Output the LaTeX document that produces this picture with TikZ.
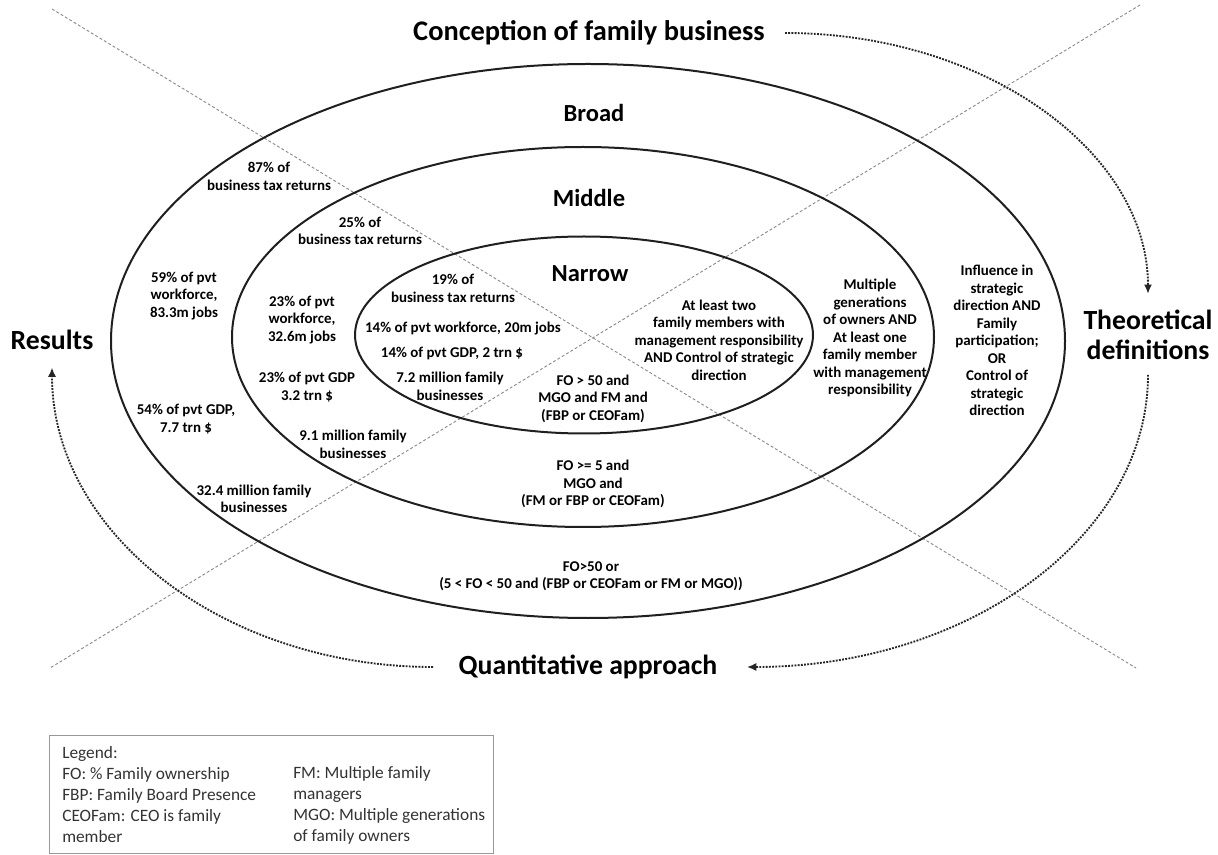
\documentclass[tikz,border=0pt]{standalone}
\usepackage{fontspec}
\setmainfont{Carlito}
\usetikzlibrary{arrows.meta}
\begin{document}
\begin{tikzpicture}[x=0.75pt,y=-0.75pt,
  ring/.style={draw=black!88, line width=1.5pt},
  diag/.style={draw=black!45, line width=0.7pt, dash pattern=on 2.2pt off 1.6pt},
  flow/.style={draw=black!85, line width=1.4pt, dash pattern=on 1.4pt off 1pt, -{Latex[length=7pt,width=6pt]}},
  txt/.style={font=\bfseries\fontsize{11.2}{13.1}\selectfont, align=center, inner sep=0pt},
  lvl/.style={font=\bfseries\fontsize{18.4}{22}\selectfont, inner sep=0pt},
  head/.style={font=\bfseries\fontsize{20.8}{22.5}\selectfont, align=center, inner sep=0pt},
  legtxt/.style={font=\fontsize{13}{15.75}\selectfont, align=left, inner sep=0pt, text=black!80, anchor=west},
  legbox/.style={draw=black!40, line width=0.6pt, inner sep=0pt, anchor=north west}
]
\useasboundingbox (0,0) rectangle (1218,855);

% diagonal guide lines
\coordinate (d1a) at (52,9);
\coordinate (d1b) at (1136,668);
\coordinate (d2a) at (1140,5);
\coordinate (d2b) at (50,668);
\draw[diag] (d1a) -- (d1b);
\draw[diag] (d2a) -- (d2b);

% rings
\draw[ring] (588,341) ellipse [x radius=477, y radius=277];
\draw[ring] (583,337) ellipse [x radius=351, y radius=190];
\draw[ring] (584,335) ellipse [x radius=229, y radius=98.5];

% headings
\node[head, font=\bfseries\fontsize{21.3}{22.5}\selectfont] (title) at (589,33) {Conception of family business};
\node[head] (theo) at (1148,335) {Theoretical\\definitions};
\node[head] (res) at (52,340) {Results};
\node[head] (quant) at (588,667) {Quantitative approach};

% ring labels
\node[lvl] (broad) at (594,113) {Broad};
\node[lvl] (middle) at (589,198) {Middle};
\node[lvl] (narrow) at (590,274) {Narrow};

% broad ring
\node[txt] (b1) at (269,176.5) {87\% of\\business tax returns};
\node[txt] (b2) at (184,296) {59\% of pvt\\workforce,\\83.3m jobs};
\node[txt] (b3) at (186,419) {54\% of pvt GDP,\\7.7 trn \$};
\node[txt] (b4) at (254,499) {32.4 million family\\businesses};
\node[txt] (b5) at (997,340.5) {Influence in\\strategic\\direction AND\\Family\\participation;\\OR\\Control of\\strategic\\direction};
\node[txt] (b6) at (591,576) {FO>50 or\\(5 < FO < 50 and (FBP or CEOFam or FM or MGO))};

% middle ring
\node[txt] (m1) at (360,231) {25\% of\\business tax returns};
\node[txt] (m2) at (302,320) {23\% of pvt\\workforce,\\32.6m jobs};
\node[txt] (m3) at (307,387) {23\% of pvt GDP\\3.2 trn \$};
\node[txt] (m4) at (353,444.5) {9.1 million family\\businesses};
\node[txt] (m5) at (870,338) {Multiple\\generations\\of owners AND\\At least one\\family member\\with management\\responsibility};
\node[txt] (m6) at (593,484) {FO >= 5 and\\MGO and\\(FM or FBP or CEOFam)};

% narrow ring
\node[txt] (n1) at (453,288.5) {19\% of\\business tax returns};
\node[txt] (n2) at (463,329) {14\% of pvt workforce, 20m jobs};
\node[txt] (n3) at (452,353) {14\% of pvt GDP, 2 trn \$};
\node[txt] (n4) at (450,386.5) {7.2 million family\\businesses};
\node[txt] (n5) at (593,398.5) {FO > 50 and\\MGO and FM and\\(FBP or CEOFam)};
\node[txt] (n6) at (719,340) {At least two\\family members with\\management responsibility\\AND Control of strategic\\direction};

% flow arrows
\draw[flow] ([xshift=15pt]title.east) .. controls +(200,0) and +(0,-142) .. ([yshift=12pt]theo.north);
\draw[flow] ([yshift=-11pt]theo.south) .. controls +(0,162) and +(221,0) .. ([xshift=22pt]quant.east);
\draw[flow] ([xshift=-19pt]quant.west) .. controls +(-209,0) and +(0,166) .. ([yshift=-13pt]res.south);

% legend
\node[legbox, minimum width=333pt, minimum height=88.5pt] (leg) at (49,735) {};
\node[legtxt] (legl) at (62,795) {Legend:\\FO: \% Family ownership\\FBP: Family Board Presence\\CEOFam: CEO is family\\member};
\node[legtxt] (legr) at (293,805.5) {FM: Multiple family\\managers\\MGO: Multiple generations\\of family owners};
\end{tikzpicture}
\end{document}
